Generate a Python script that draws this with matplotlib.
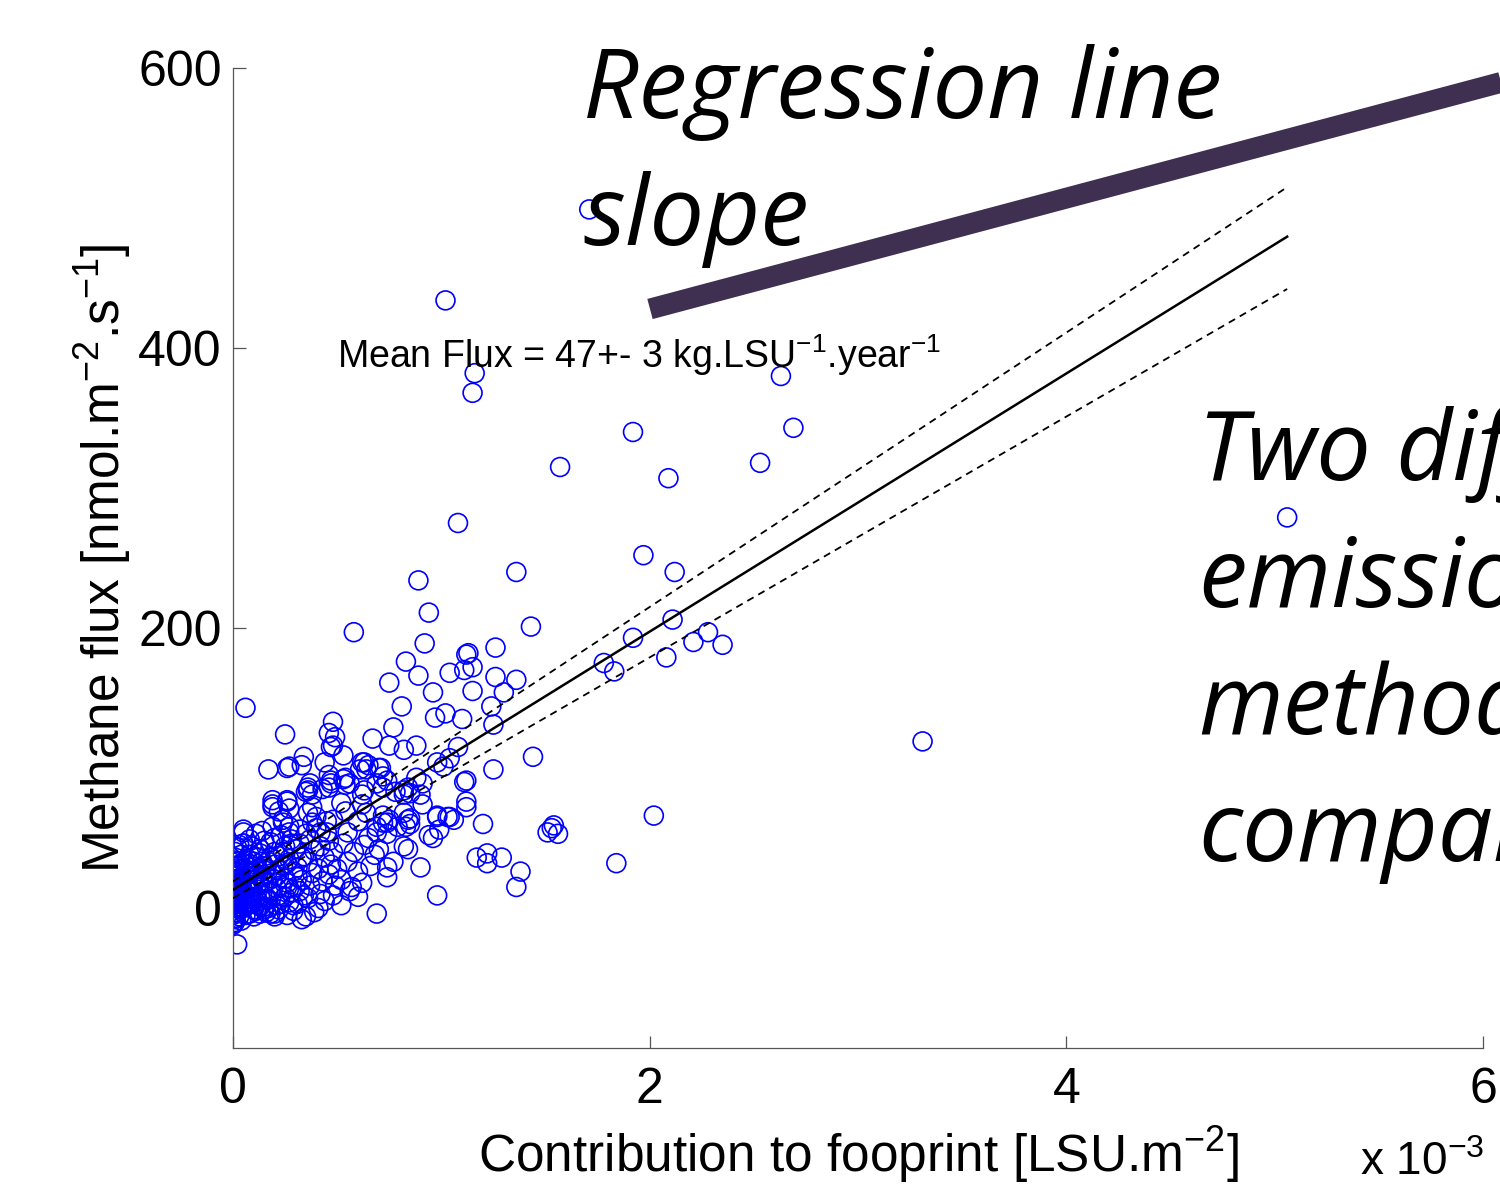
import numpy as np
import matplotlib.pyplot as plt
from matplotlib.lines import Line2D

plt.rcParams['font.family'] = ['Liberation Sans', 'DejaVu Sans']
plt.rcParams['mathtext.fontset'] = 'custom'
plt.rcParams['mathtext.rm'] = 'Liberation Sans'
plt.rcParams['mathtext.it'] = 'Liberation Sans'

# contribution to footprint (x 10^-3 LSU.m-2) and methane flux (nmol.m-2.s-1)
# dense cluster near the origin
contrib_core = [0.00, 0.01, 0.00, 0.02, 0.01, 0.00, 0.03, 0.01, 0.02, 0.00, 0.01, 0.03, 0.00, 0.02, 0.01,
                0.00, 0.02, 0.01, 0.03, 0.00, 0.01, 0.03, 0.02, 0.04, 0.00, 0.03, 0.04, 0.02, 0.04, 0.01,
                0.03, 0.02, 0.04, 0.01, 0.03, 0.05, 0.02, 0.04, 0.00, 0.01,
                0.06, 0.07, 0.08, 0.06, 0.09, 0.07, 0.10, 0.08, 0.11, 0.12, 0.10, 0.13, 0.11, 0.14, 0.12,
                0.09, 0.13, 0.15, 0.06, 0.07, 0.14, 0.15, 0.10, 0.13, 0.08, 0.11, 0.14, 0.05, 0.09, 0.12,
                0.16, 0.17, 0.18, 0.16, 0.19, 0.17, 0.20, 0.18, 0.21, 0.22, 0.23, 0.21, 0.24, 0.22, 0.25,
                0.23, 0.26, 0.27, 0.28, 0.26, 0.29, 0.27, 0.30, 0.28, 0.19, 0.24, 0.17, 0.20, 0.29, 0.25,
                0.16, 0.30, 0.22, 0.27,
                0.31, 0.32, 0.33, 0.31, 0.34, 0.32, 0.35, 0.33, 0.36, 0.37, 0.38, 0.36, 0.39, 0.37, 0.40,
                0.41, 0.42, 0.43, 0.41, 0.44, 0.42, 0.45, 0.46, 0.47, 0.48, 0.46, 0.49, 0.44, 0.39, 0.50,
                0.52, 0.55, 0.58, 0.60, 0.63, 0.66, 0.68, 0.56, 0.62, 0.65, 0.70, 0.53,
                0.00, 0.01, 0.00, 0.02, 0.00, 0.01, 0.00, 0.02, 0.01, 0.00, 0.03, 0.01, 0.00, 0.02, 0.01,
                0.04, 0.05, 0.06, 0.05, 0.07, 0.06, 0.08, 0.07, 0.09, 0.08, 0.10, 0.09, 0.11, 0.10, 0.12,
                0.13, 0.12, 0.14, 0.15, 0.13, 0.16, 0.15, 0.17, 0.18, 0.19, 0.18, 0.20, 0.21, 0.20, 0.22,
                0.23, 0.24, 0.25, 0.26, 0.27, 0.28, 0.29, 0.31, 0.33, 0.34, 0.02, 0.05, 0.08, 0.11, 0.14]
flux_core = [-12, -8, -5, -3, 0, 2, 4, 6, 8, 10, 12, 14, 16, 18, 20,
             23, 26, 29, 31, 34, -10, -6, 1, 5, 7, 9, 12, 15, 19, 24,
             27, 33, 38, 40, -1, 3, 11, 22, -2, 17,
             -5, 2, 8, 14, 20, 27, 33, 38, -2, 5, 11, 17, 24, 30, 36,
             44, 42, 48, 31, 19, 9, 1, -6, -4, 25, 15, 22, 10, 4, 28,
             -3, 6, 12, 19, 25, 33, 40, 47, 2, 9, 16, 23, 30, 37, 44,
             52, -5, 4, 11, 18, 26, 35, 42, 49, 58, 63, 0, -6, -2, 21,
             28, 15, -1, 58,
             3, 12, 20, 29, 37, 46, 53, -8, 7, 16, 25, 33, 41, 49, 57,
             0, 10, 19, 28, 36, 44, 62, 24, 31, 40, 48, 16, 5, -3, 28,
             20, 33, 40, 26, 45, 30, 38, 12, 18, 50, 42, 46,
             -11, -7, -4, 1, 3, 5, 9, 13, 15, 18, 21, 25, 28, 30, 36,
             -9, 0, 6, 12, 17, 23, 29, 35, 3, 14, -1, 26, 8, 20, 13,
             1, 24, 33, 18, 39, 6, 27, 11, 36, 21, -4, 31, 14, 50, 27,
             3, 40, 8, 32, 14, 46, 2, 22, 36, 9, 43, 46, 49, 53, 55]

# middle band
contrib_mid = [0.92, 0.83, 0.75, 0.89, 0.96, 0.81, 0.97, 1.02, 0.77, 0.67, 0.75, 0.82, 0.88, 1.10, 1.12,
               1.13, 1.15, 1.11, 1.04, 1.15, 1.26, 1.36, 1.30, 1.24, 1.25, 1.44, 1.25, 1.12, 1.12, 1.20,
               1.08, 1.04, 0.98, 1.01, 0.91, 0.91, 0.98, 1.04, 1.06, 0.96, 1.17, 1.22, 1.22, 1.29, 1.38,
               1.36, 0.90, 0.98, 0.69, 0.82, 0.84, 0.74, 0.77, 0.74, 0.82, 0.84, 0.85, 0.79, 0.75, 0.72,
               0.85, 0.82, 0.69, 0.72, 0.63, 0.64, 0.71,
               0.48, 0.46, 0.49, 0.48, 0.47, 0.25, 0.34, 0.33, 0.27, 0.44, 0.53, 0.62, 0.65, 0.61, 0.70,
               0.54, 0.56, 0.47, 0.46, 0.36, 0.35, 0.38, 0.63, 0.62, 0.74, 0.72, 0.78, 0.84, 0.82, 0.26,
               0.27, 0.38, 0.36, 0.40, 0.38, 0.52, 0.54, 0.48, 0.62, 0.64, 0.60, 0.72, 0.74, 0.69, 0.85,
               0.83, 0.90, 0.98, 1.03, 0.99, 0.24, 0.27, 0.32, 0.42, 0.45, 0.55, 0.69, 0.74, 0.94,
               0.05, 0.19, 0.26, 0.22, 0.43, 0.47, 0.54, 0.35, 0.48, 0.52, 0.57, 0.60, 0.20, 0.08, 0.15,
               0.03, 0.17, 0.26, 0.19, 0.19, 0.37, 0.36, 0.46, 0.53, 0.88, 1.11, 1.12, 1.26, 0.05, 0.05]
flux_mid = [189, 176, 161, 166, 154, 144, 136, 139, 129, 121, 116, 113, 116, 135, 181,
            182, 172, 170, 168, 155, 186, 163, 154, 144, 131, 108, 99, 91, 76, 60,
            115, 107, 104, 101, 89, 74, 66, 65, 63, 50, 36, 39, 32, 36, 26,
            15, 29, 9, -4, 44, 42, 29, 33, 22, 68, 63, 60, 58, 63, 61,
            82, 84, 89, 94, 104, 99, 100,
            133, 125, 122, 116, 115, 124, 108, 102, 101, 104, 109, 104, 102, 99, 100,
            93, 89, 91, 86, 86, 83, 81, 84, 81, 91, 86, 83, 86, 81, 77,
            71, 72, 68, 65, 61, 75, 69, 63, 74, 68, 62, 66, 61, 58, 64,
            58, 81, 65, 65, 56, 61, 54, 56, 54, 54, 54, 54, 53, 52,
            56, 74, 76, 69, 85, 89, 88, -6, 9, 2, 15, 8, -4, -4, -1,
            45, 99, 100, 77, 72, 89, 84, 95, 92, 93, 90, 72, 165, 54, 46]

# scattered high values
contrib_out = [1.02, 1.71, 1.16, 1.15, 2.63, 2.69, 1.92, 2.53, 1.57, 2.09, 1.08, 5.06, 1.97, 2.12, 1.36,
               0.89, 0.94, 1.43, 0.58, 2.11, 1.92, 2.28, 2.21, 2.35, 1.78, 1.83, 2.08, 3.31, 2.02, 1.84,
               1.51, 1.54, 1.56, 1.53, 0.06, 0.02]
flux_out = [434, 499, 382, 368, 380, 343, 340, 318, 315, 307, 275, 279, 252, 240, 240,
            234, 211, 201, 197, 206, 193, 197, 190, 188, 175, 169, 179, 119, 66, 32,
            54, 59, 53, 57, 143, -26]

# regression line and its confidence band (flux = a + b * contrib)
fit_intercept, fit_slope = 13.0, 92.2
upper_intercept, upper_slope = 19.0, 98.0
lower_intercept, lower_slope = 7.0, 86.0

x = np.array(contrib_core + contrib_mid + contrib_out)
y = np.array(flux_core + flux_mid + flux_out)

W, H = 1500, 1185
fig = plt.figure(figsize=(W / 100, H / 100), dpi=100)
ax = fig.add_axes([233 / W, 1 - 1048 / H, 1250 / W, 980 / H])

ax.scatter(x, y, s=185, facecolors='none', edgecolors='#0000ff', linewidths=1.2, zorder=2)

xl = np.array([x.min(), x.max()])
ax.plot(xl, fit_intercept + fit_slope * xl, color='k', lw=1.8, zorder=3)
ax.plot(xl, upper_intercept + upper_slope * xl, color='k', lw=1.3, ls=(0, (4, 3)), zorder=3)
ax.plot(xl, lower_intercept + lower_slope * xl, color='k', lw=1.3, ls=(0, (4, 3)), zorder=3)

ax.set_xlim(0, 6)
ax.set_ylim(-100, 600)
ax.set_xticks([0, 2, 4, 6])
ax.set_yticks([0, 200, 400, 600])
ax.set_xticklabels(['0', '2', '4', '6'])
ax.set_yticklabels(['0', '200', '400', '600'])
for s in ['top', 'right']:
    ax.spines[s].set_visible(False)
for s in ['left', 'bottom']:
    ax.spines[s].set_color('#555555')
    ax.spines[s].set_linewidth(0.9)
ax.tick_params(direction='in', length=9, width=0.9, color='#555555', labelsize=36)
ax.tick_params(axis='x', pad=14)
ax.tick_params(axis='y', pad=8)

ax.set_xlabel(r'Contribution to fooprint [LSU.m$^{-2}$]', fontsize=37)
ax.xaxis.set_label_coords(0.5, -0.078)
ax.set_ylabel(r'Methane flux [nmol.m$^{-2}$.s$^{-1}$]', fontsize=37)
ax.yaxis.set_label_coords(-0.08, 0.5)

ax.text(0.5, 395, r'Mean Flux = 47+- 3 kg.LSU$^{-1}$.year$^{-1}$', fontsize=27, va='center', ha='left')

fig.text(1360 / W, 1 - 1175 / H, r'x 10$^{-3}$', fontsize=33, va='baseline', ha='left')

# slide annotations on top of the chart
fig.add_artist(Line2D([650 / W, 1510 / W], [1 - 309 / H, 1 - 80 / H], color='#3f2f50',
                      lw=15, solid_capstyle='butt', zorder=10))

txt = dict(family=['Open Sans', 'DejaVu Sans'], style='italic', fontsize=70, zorder=11,
           ha='left', va='baseline')
for i, line in enumerate(['Regression line', 'slope']):
    fig.text(583 / W, 1 - (118 + 127 * i) / H, line, **txt)
for i, line in enumerate(['Two different', 'emission', 'methods', 'compared']):
    fig.text(1198 / W, 1 - (480 + 127 * i) / H, line, **txt)

fig.savefig('out.png', dpi=100)
